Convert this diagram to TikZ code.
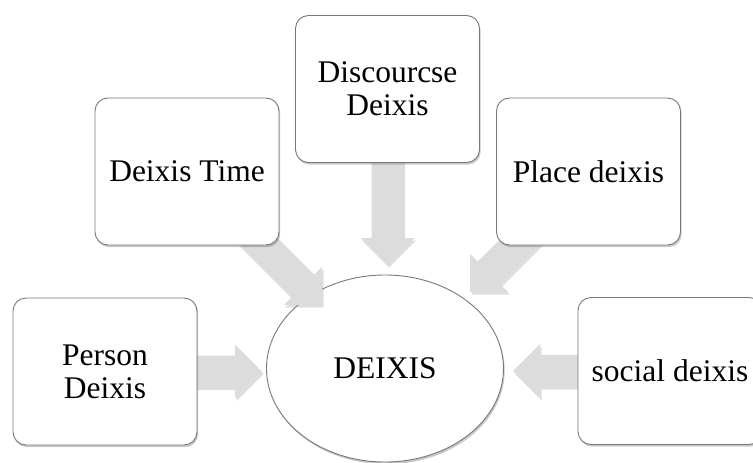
\documentclass[tikz,border=0pt]{standalone}
\usepackage{fontspec}
\setmainfont{Liberation Serif}
\usetikzlibrary{shapes.geometric,shadows,calc}
\definecolor{boxline}{RGB}{120,120,120}
\definecolor{arrowgray}{RGB}{220,220,220}
\tikzset{
  conceptbox/.style={rectangle, rounded corners=13pt, draw=boxline, line width=0.9pt,
    fill=white, minimum width=184pt, minimum height=147pt, align=center,
    font=\fontsize{31.5}{33}\selectfont, inner sep=4pt,
    drop shadow={shadow xshift=1.2pt, shadow yshift=-2.2pt, opacity=0.35, fill=black!60}},
  centreoval/.style={ellipse, draw=boxline, line width=0.9pt, fill=white,
    minimum width=237pt, minimum height=187pt, inner sep=0pt,
    font=\fontsize{31.5}{33}\selectfont,
    drop shadow={shadow xshift=1.2pt, shadow yshift=-2.2pt, opacity=0.35, fill=black!60}},
  blockfill/.style={fill=arrowgray,
    drop shadow={shadow xshift=1.5pt, shadow yshift=-2.5pt, opacity=0.25, fill=black!50}}
}
% #1 start, #2 tip, #3 name prefix
\newcommand\blockarrowto[3]{%
  \coordinate (#3b) at ($(#2)!27pt!(#1)$);
  \path[blockfill] ($(#1)!16pt!90:(#2)$) -- ($(#3b)!16pt!90:(#2)$)
    -- ($(#3b)!27pt!90:(#2)$) -- (#2) -- ($(#3b)!27pt!-90:(#2)$)
    -- ($(#3b)!16pt!-90:(#2)$) -- ($(#1)!16pt!-90:(#2)$) -- cycle;}
\begin{document}
\begin{tikzpicture}[x=1pt,y=1pt]
\useasboundingbox (0,0) rectangle (753,-463);
\clip (0,0) rectangle (753,-463);
\fill[white] (0,0) rectangle (753,-463);
% centre
\node[centreoval] (deixis) at (385,-368.5) {DEIXIS};
% connector end points
\coordinate (personS) at (190,-371.5);
\coordinate (personT) at (262,-371.5);
\coordinate (socialS) at (585,-371);
\coordinate (socialT) at (513,-371);
\coordinate (discS) at (387.5,-150);
\coordinate (discT) at (387.5,-265);
\coordinate (timeS) at (237,-220);
\coordinate (timeT) at (322,-305);
\coordinate (placeS) at (555,-207);
\coordinate (placeT) at (470,-292);
% arrows
\blockarrowto{personS}{personT}{pa}
\blockarrowto{socialS}{socialT}{sa}
\blockarrowto{discS}{discT}{da}
\blockarrowto{timeS}{timeT}{ta}
\blockarrowto{placeS}{placeT}{pl}
% boxes
\node[conceptbox] (person) at (105,-371.5) {Person\\Deixis};
\node[conceptbox] (time) at (187,-171.5) {Deixis Time};
\node[conceptbox] (disc) at (387.5,-89) {Discourcse\\Deixis};
\node[conceptbox] (place) at (588.5,-171.5) {Place deixis};
\node[conceptbox] (social) at (670,-371) {social deixis};
\end{tikzpicture}
\end{document}
